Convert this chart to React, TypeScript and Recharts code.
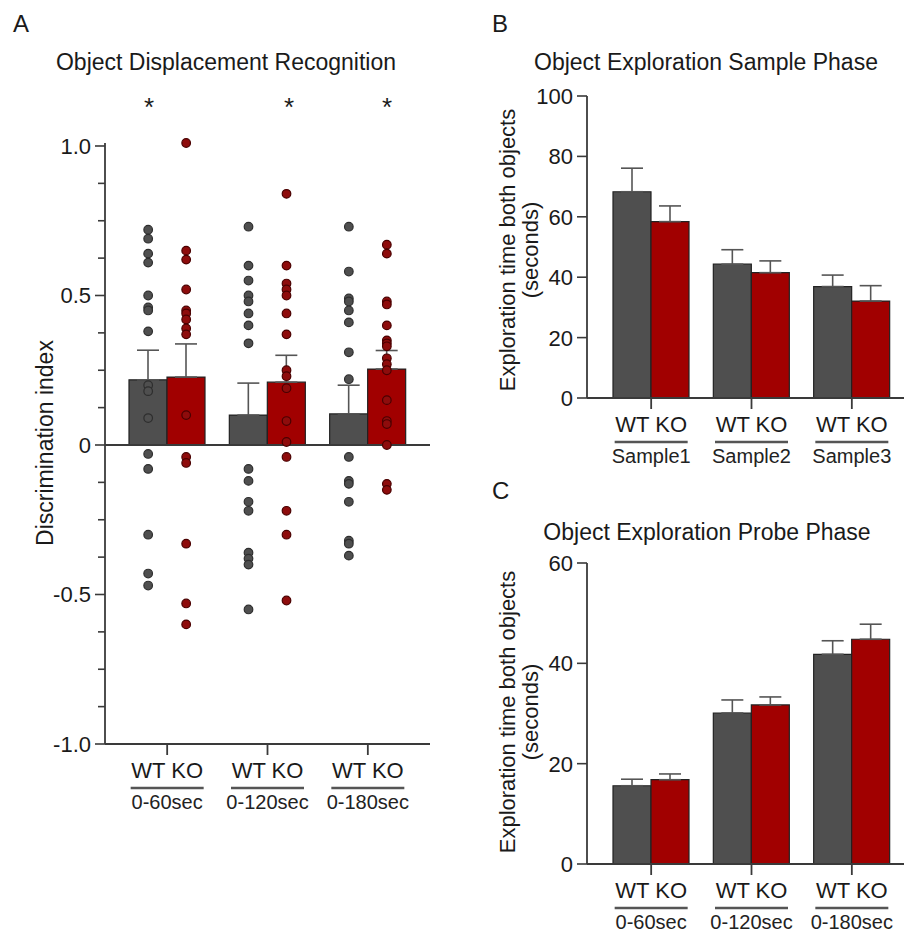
import React from "react";
import { ComposedChart, BarChart, Bar, XAxis, YAxis, Scatter, ErrorBar, ReferenceLine } from "recharts";

const FONT = '"Liberation Sans", Arial, Helvetica, sans-serif';
const WT_FILL = "#4f4f4f";
const KO_FILL = "#a10000";
const AXIS = "#3a3a3a";

const genotypes = ["WT", "KO"];

// A: object displacement recognition (discrimination index)
const recogGroups = ["0-60sec", "0-120sec", "0-180sec"];
const recogWtMean = [0.218, 0.1, 0.104];
const recogWtSem = [0.099, 0.107, 0.096];
const recogKoMean = [0.227, 0.21, 0.254];
const recogKoSem = [0.111, 0.09, 0.062];

const recogWtPoints = [
  [0.72, 0.69, 0.64, 0.61, 0.5, 0.46, 0.45, 0.38, 0.2, 0.18, 0.09, -0.03, -0.08, -0.3, -0.43, -0.47],
  [0.73, 0.6, 0.55, 0.5, 0.48, 0.44, 0.4, 0.34, -0.08, -0.12, -0.19, -0.22, -0.36, -0.38, -0.4, -0.55],
  [0.73, 0.58, 0.49, 0.48, 0.45, 0.41, 0.31, 0.22, -0.04, -0.12, -0.13, -0.19, -0.32, -0.33, -0.37],
];
const recogKoPoints = [
  [1.01, 0.65, 0.62, 0.52, 0.45, 0.44, 0.42, 0.39, 0.37, 0.1, -0.04, -0.06, -0.33, -0.53, -0.6],
  [0.84, 0.6, 0.54, 0.52, 0.5, 0.44, 0.37, 0.25, 0.23, 0.19, 0.08, 0.01, -0.04, -0.22, -0.3, -0.52],
  [0.67, 0.64, 0.48, 0.47, 0.4, 0.35, 0.34, 0.33, 0.29, 0.27, 0.25, 0.15, 0.08, 0.07, 0.0, -0.13, -0.15],
];
const recogTicks = [-1, -0.875, -0.75, -0.625, -0.5, -0.375, -0.25, -0.125, 0, 0.125, 0.25, 0.375, 0.5, 0.625, 0.75, 0.875, 1];

// B: sample phase exploration time
const sampleGroups = ["Sample1", "Sample2", "Sample3"];
const sampleWtMean = [68.3, 44.3, 36.9];
const sampleWtSem = [7.8, 4.8, 3.8];
const sampleKoMean = [58.4, 41.5, 32.1];
const sampleKoSem = [5.2, 3.9, 5.1];
const sampleTicks = [0, 20, 40, 60, 80, 100];

// C: probe phase exploration time
const probeGroups = ["0-60sec", "0-120sec", "0-180sec"];
const probeWtMean = [15.6, 30.1, 41.8];
const probeWtSem = [1.3, 2.6, 2.7];
const probeKoMean = [16.8, 31.7, 44.8];
const probeKoSem = [1.15, 1.6, 3.0];
const probeTicks = [0, 20, 40, 60];

function toRows(groups: string[], wt: number[], wtSem: number[], ko: number[], koSem: number[]) {
  return groups.map((g, i) => ({
    g,
    wt: wt[i],
    ko: ko[i],
    wtErr: [0, wtSem[i]],
    koErr: [0, koSem[i]],
  }));
}

const recogRows = toRows(recogGroups, recogWtMean, recogWtSem, recogKoMean, recogKoSem);
const sampleRows = toRows(sampleGroups, sampleWtMean, sampleWtSem, sampleKoMean, sampleKoSem);
const probeRows = toRows(probeGroups, probeWtMean, probeWtSem, probeKoMean, probeKoSem);

const recogWtDots = recogGroups.flatMap((g, i) => recogWtPoints[i].map((v) => ({ g, v })));
const recogKoDots = recogGroups.flatMap((g, i) => recogKoPoints[i].map((v) => ({ g, v })));

const BAR = 38;

// y here is the axis line itself (tickSize 0)
function GroupTick({ x, y, payload }: any) {
  return (
    <g>
      <line x1={x} y1={y} x2={x} y2={y + 11} stroke={AXIS} strokeWidth={1.8} />
      <text x={x} y={y + 34} textAnchor="middle" fontSize={22} fontFamily={FONT} fill="#1a1a1a">
        {genotypes.join(" ")}
      </text>
      <line x1={x - 36.5} y1={y + 44} x2={x + 36.5} y2={y + 44} stroke="#555" strokeWidth={2.5} />
      <text x={x} y={y + 65} textAnchor="middle" fontSize={20} fontFamily={FONT} fill="#222">
        {payload.value}
      </text>
    </g>
  );
}

function RecogYTick({ x, y, payload }: any) {
  const v = payload.value;
  const major = Math.abs(v * 2 - Math.round(v * 2)) < 1e-6;
  return (
    <g>
      <line x1={x - (major ? 10 : 7)} y1={y} x2={x} y2={y} stroke={AXIS} strokeWidth={1.6} />
      {major && (
        <text x={x - 14} y={y} dy={8} textAnchor="end" fontSize={22} fontFamily={FONT} fill="#1a1a1a">
          {v === 0 ? "0" : v.toFixed(1)}
        </text>
      )}
    </g>
  );
}

function TimeYTick({ x, y, payload }: any) {
  return (
    <g>
      <line x1={x - 10} y1={y} x2={x} y2={y} stroke={AXIS} strokeWidth={1.6} />
      <text x={x - 14} y={y} dy={8} textAnchor="end" fontSize={22} fontFamily={FONT} fill="#1a1a1a">
        {payload.value}
      </text>
    </g>
  );
}

const dotShape = (offset: number, fill: string, stroke: string) => (p: any) =>
  <circle cx={p.cx + offset} cy={p.cy} r={4.3} fill={fill} stroke={stroke} strokeWidth={1.2} />;

function TimeChart({ rows, ticks, max, height, top, plotH }: { rows: any[]; ticks: number[]; max: number; height: number; top: number; plotH: number }) {
  return (
    <BarChart width={457} height={height} data={rows} margin={{ top, right: 3, bottom: 0, left: 0 }} barGap={0}>
      <XAxis
        dataKey="g"
        type="category"
        interval={0}
        height={height - top - plotH}
        padding={{ left: 14, right: 2 }}
        axisLine={{ stroke: AXIS, strokeWidth: 1.8 }}
        tickLine={false}
        tickSize={0}
        tickMargin={0}
        tick={<GroupTick />}
      />
      <YAxis
        type="number"
        domain={[0, max]}
        ticks={ticks}
        width={137}
        axisLine={{ stroke: AXIS, strokeWidth: 1.8 }}
        tickLine={false}
        tickSize={0}
        tickMargin={0}
        tick={<TimeYTick />}
      />
      <Bar dataKey="wt" fill={WT_FILL} stroke="#222" strokeWidth={1.2} barSize={BAR} isAnimationActive={false}>
        <ErrorBar dataKey="wtErr" width={11} stroke="#555" strokeWidth={1.6} direction="y" />
      </Bar>
      <Bar dataKey="ko" fill={KO_FILL} stroke="#222" strokeWidth={1.2} barSize={BAR} isAnimationActive={false}>
        <ErrorBar dataKey="koErr" width={11} stroke="#555" strokeWidth={1.6} direction="y" />
      </Bar>
    </BarChart>
  );
}

export default function App() {
  const txt = { fontFamily: FONT, fill: "#1a1a1a" } as const;
  return (
    <div style={{ position: "absolute", left: 0, top: 0, width: 907, height: 932, background: "#fff" }}>
      <div style={{ position: "absolute", left: 0, top: 0 }}>
        <ComposedChart width={440} height={830} data={recogRows} margin={{ top: 143, right: 10, bottom: 6, left: 0 }} barGap={0}>
          <XAxis
            dataKey="g"
            type="category"
            allowDuplicatedCategory={false}
            interval={0}
            height={80}
            padding={{ left: 12, right: 12 }}
            axisLine={{ stroke: AXIS, strokeWidth: 1.8 }}
            tickLine={false}
            tickSize={0}
            tickMargin={0}
            tick={<GroupTick />}
          />
          <YAxis
            type="number"
            domain={[-1, 1]}
            ticks={recogTicks}
            width={105}
            axisLine={{ stroke: AXIS, strokeWidth: 1.8 }}
            tickLine={false}
            tickSize={0}
            tickMargin={0}
            tick={<RecogYTick />}
          />
          <Bar dataKey="wt" fill={WT_FILL} stroke="#222" strokeWidth={1.2} barSize={BAR} isAnimationActive={false}>
            <ErrorBar dataKey="wtErr" width={11} stroke="#555" strokeWidth={1.6} direction="y" />
          </Bar>
          <Bar dataKey="ko" fill={KO_FILL} stroke="#222" strokeWidth={1.2} barSize={BAR} isAnimationActive={false}>
            <ErrorBar dataKey="koErr" width={11} stroke="#555" strokeWidth={1.6} direction="y" />
          </Bar>
          <ReferenceLine y={0} stroke={AXIS} strokeWidth={1.8} />
          <Scatter data={recogWtDots} dataKey="v" isAnimationActive={false} shape={dotShape(-BAR / 2, WT_FILL, "#2e2e2e")} />
          <Scatter data={recogKoDots} dataKey="v" isAnimationActive={false} shape={dotShape(BAR / 2, "#8e0c0c", "#4a0000")} />
        </ComposedChart>
      </div>
      <div style={{ position: "absolute", left: 450, top: 0 }}>
        <TimeChart rows={sampleRows} ticks={sampleTicks} max={100} height={470} top={96} plotH={302} />
      </div>
      <div style={{ position: "absolute", left: 450, top: 470 }}>
        <TimeChart rows={probeRows} ticks={probeTicks} max={60} height={462} top={93} plotH={301} />
      </div>
      <svg width={907} height={932} style={{ position: "absolute", left: 0, top: 0, pointerEvents: "none" }}>
        <text x={13} y={32} fontSize={24} {...txt}>A</text>
        <text x={226} y={70} fontSize={23} textAnchor="middle" {...txt}>Object Displacement Recognition</text>
        <text x={149} y={116} fontSize={26} textAnchor="middle" {...txt}>*</text>
        <text x={289} y={116} fontSize={26} textAnchor="middle" {...txt}>*</text>
        <text x={387} y={116} fontSize={26} textAnchor="middle" {...txt}>*</text>
        <text transform="translate(53,443) rotate(-90)" fontSize={23} textAnchor="middle" {...txt}>Discrimination index</text>

        <text x={492} y={32} fontSize={24} {...txt}>B</text>
        <text x={706} y={70} fontSize={23} textAnchor="middle" {...txt}>Object Exploration Sample Phase</text>
        <text transform="translate(515,250) rotate(-90)" fontSize={22} textAnchor="middle" {...txt}>Exploration time both objects</text>
        <text transform="translate(538,250) rotate(-90)" fontSize={22} textAnchor="middle" {...txt}>(seconds)</text>

        <text x={492} y={499} fontSize={24} {...txt}>C</text>
        <text x={707} y={540} fontSize={23} textAnchor="middle" {...txt}>Object Exploration Probe Phase</text>
        <text transform="translate(515,712) rotate(-90)" fontSize={22} textAnchor="middle" {...txt}>Exploration time both objects</text>
        <text transform="translate(538,712) rotate(-90)" fontSize={22} textAnchor="middle" {...txt}>(seconds)</text>
      </svg>
    </div>
  );
}
